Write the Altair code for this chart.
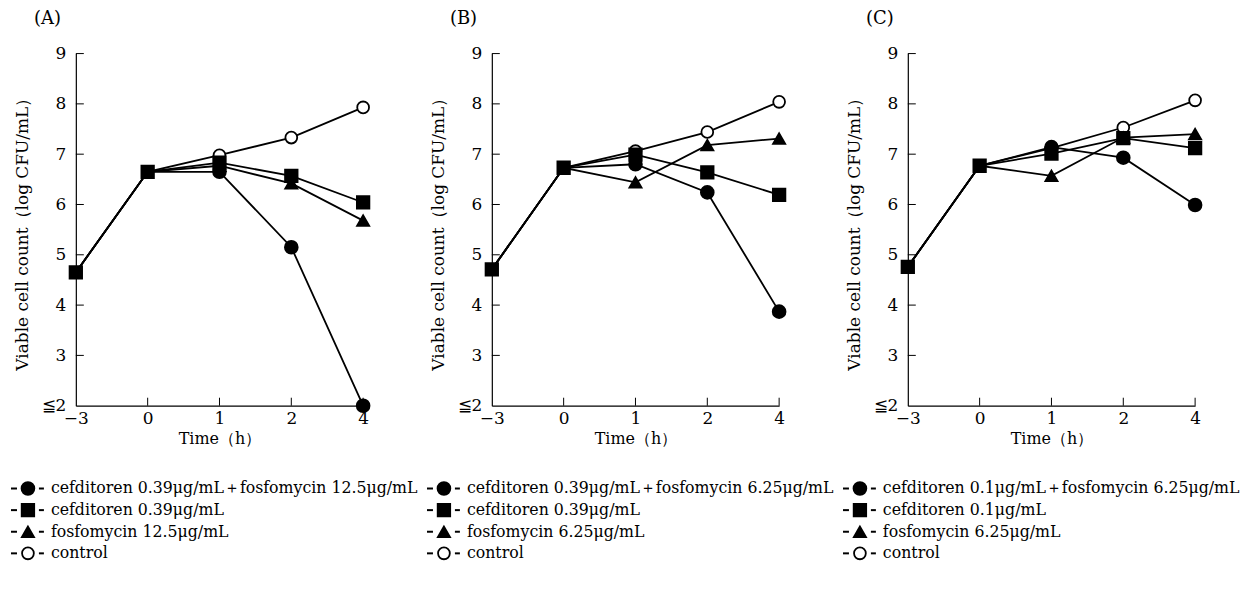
import altair as alt
import pandas as pd

# ---------------- data ----------------
times = ["−3", "0", "1", "2", "4"]
y_ticks = [2, 3, 4, 5, 6, 7, 8, 9]
series_keys = ["combo", "cef", "fos", "ctrl"]
series_shapes = ["circle", "square", "triangle-up", "circle"]
series_fills = ["black", "black", "black", "white"]
series_sizes = [165, 140, 210, 150]
draw_rank = {"ctrl": 0, "fos": 1, "combo": 2, "cef": 3}

panel_titles = ["(A)", "(B)", "(C)"]

A_combo = [4.65, 6.65, 6.65, 5.15, 2.00]
A_cef = [4.65, 6.65, 6.83, 6.57, 6.04]
A_fos = [4.65, 6.65, 6.77, 6.42, 5.68]
A_ctrl = [4.65, 6.65, 6.98, 7.33, 7.93]
A_labels = ["cefditoren 0.39μg/mL＋fosfomycin 12.5μg/mL",
            "cefditoren 0.39μg/mL",
            "fosfomycin 12.5μg/mL",
            "control"]

B_combo = [4.71, 6.73, 6.80, 6.24, 3.87]
B_cef = [4.71, 6.73, 6.99, 6.64, 6.19]
B_fos = [4.71, 6.73, 6.44, 7.18, 7.31]
B_ctrl = [4.71, 6.73, 7.06, 7.44, 8.04]
B_labels = ["cefditoren 0.39μg/mL＋fosfomycin 6.25μg/mL",
            "cefditoren 0.39μg/mL",
            "fosfomycin 6.25μg/mL",
            "control"]

C_combo = [4.76, 6.77, 7.14, 6.93, 5.99]
C_cef = [4.76, 6.77, 7.01, 7.32, 7.12]
C_fos = [4.76, 6.77, 6.57, 7.33, 7.40]
C_ctrl = [4.76, 6.77, 7.12, 7.53, 8.07]
C_labels = ["cefditoren 0.1μg/mL＋fosfomycin 6.25μg/mL",
            "cefditoren 0.1μg/mL",
            "fosfomycin 6.25μg/mL",
            "control"]

FONT = "DejaVu Serif"
W, H = 288, 353
TICK = 8


def panel(title, combo, cef, fos, ctrl, labels):
    rows = []
    for key, vals in zip(series_keys, [combo, cef, fos, ctrl]):
        for i, (t, v) in enumerate(zip(times, vals)):
            rows.append({"time": t, "idx": i, "value": v, "series": key})
    df = pd.DataFrame(rows)
    pts = df[(df.series == "cef") | (~df.time.isin(times[:2]))].copy()
    pts["rank"] = pts.series.map(draw_rank)

    xscale = alt.Scale(type="point", domain=times, padding=0)
    yscale = alt.Scale(domain=[2, 9], nice=False, zero=False)
    shape_scale = alt.Scale(domain=series_keys, range=series_shapes)
    fill_scale = alt.Scale(domain=series_keys, range=series_fills)
    size_scale = alt.Scale(domain=series_keys, range=series_sizes)

    X = alt.X("time:O", scale=xscale, sort=times,
              axis=alt.Axis(title="Time（h）", labelAngle=0, ticks=False,
                            labelPadding=5, titlePadding=4, titleFontSize=16))
    Y = alt.Y("value:Q", scale=yscale,
              axis=alt.Axis(title="Viable cell count（log CFU/mL）",
                            values=y_ticks, ticks=False, labelPadding=10,
                            titlePadding=10, titleFontSize=17,
                            labelExpr="datum.value == 2 ? '≦2' : datum.label"))

    lines = alt.Chart(df).mark_line(color="black", strokeWidth=1.8).encode(
        x=X, y=Y, detail="series:N", order="idx:Q")

    points = alt.Chart(pts).mark_point(filled=True, stroke="black",
                                       strokeWidth=1.8, opacity=1).encode(
        x=alt.X("time:O", scale=xscale, sort=times),
        y=alt.Y("value:Q", scale=yscale),
        shape=alt.Shape("series:N", scale=shape_scale, legend=None),
        fill=alt.Fill("series:N", scale=fill_scale, legend=None),
        size=alt.Size("series:N", scale=size_scale, legend=None),
        order=alt.Order("rank:Q"))

    xt = alt.Chart(pd.DataFrame({"time": times[1:]})).mark_rule(
        color="black", strokeWidth=1).encode(
        x=alt.X("time:O", scale=xscale, sort=times),
        y=alt.value(H), y2=alt.value(H - TICK))
    yt = alt.Chart(pd.DataFrame({"value": y_ticks[1:]})).mark_rule(
        color="black", strokeWidth=1).encode(
        y=alt.Y("value:Q", scale=yscale),
        x=alt.value(0), x2=alt.value(TICK))

    plot = alt.layer(lines, xt, yt, points)

    leg = pd.DataFrame({"row": list(range(4)), "series": series_keys,
                        "label": labels})
    LY = alt.Y("row:Q", scale=alt.Scale(domain=[0, 3], range=[436, 501]),
               axis=None)
    d1 = alt.Chart(leg).mark_rule(color="black", strokeWidth=2).encode(
        y=LY, x=alt.value(-65), x2=alt.value(-59))
    d2 = alt.Chart(leg).mark_rule(color="black", strokeWidth=2).encode(
        y=LY, x=alt.value(-37), x2=alt.value(-32))
    sym = alt.Chart(leg).mark_point(filled=True, stroke="black",
                                    strokeWidth=1.8, opacity=1).encode(
        y=LY, x=alt.value(-48),
        shape=alt.Shape("series:N", scale=shape_scale, legend=None),
        fill=alt.Fill("series:N", scale=fill_scale, legend=None),
        size=alt.Size("series:N", scale=size_scale, legend=None))
    txt = alt.Chart(leg).mark_text(align="left", baseline="middle",
                                   font=FONT, fontSize=15.8,
                                   color="black").encode(
        y=LY, x=alt.value(-25), text="label:N")
    legend = alt.layer(d1, d2, sym, txt)

    return alt.layer(plot, legend).resolve_scale(y="independent").properties(
        width=W, height=H,
        title=alt.Title(title, anchor="start", frame="group", dx=-42,
                        offset=17, font=FONT, fontSize=18,
                        fontWeight="normal", color="black"))


pa = panel(panel_titles[0], A_combo, A_cef, A_fos, A_ctrl, A_labels)
pb = panel(panel_titles[1], B_combo, B_cef, B_fos, B_ctrl, B_labels)
pc = panel(panel_titles[2], C_combo, C_cef, C_fos, C_ctrl, C_labels)

chart = alt.hconcat(pa, pb, pc, spacing=129, bounds="flush").properties(
    padding={"left": 2, "top": 1, "right": 2, "bottom": 2}
).configure_view(stroke=None).configure_axis(
    labelFont=FONT, labelFontSize=17, labelColor="black",
    titleFont=FONT, titleFontWeight="normal",
    titleColor="black", domainColor="black", domainWidth=1.2, grid=False
)

chart.save("out.html", embed_options={"renderer": "svg", "actions": False})
